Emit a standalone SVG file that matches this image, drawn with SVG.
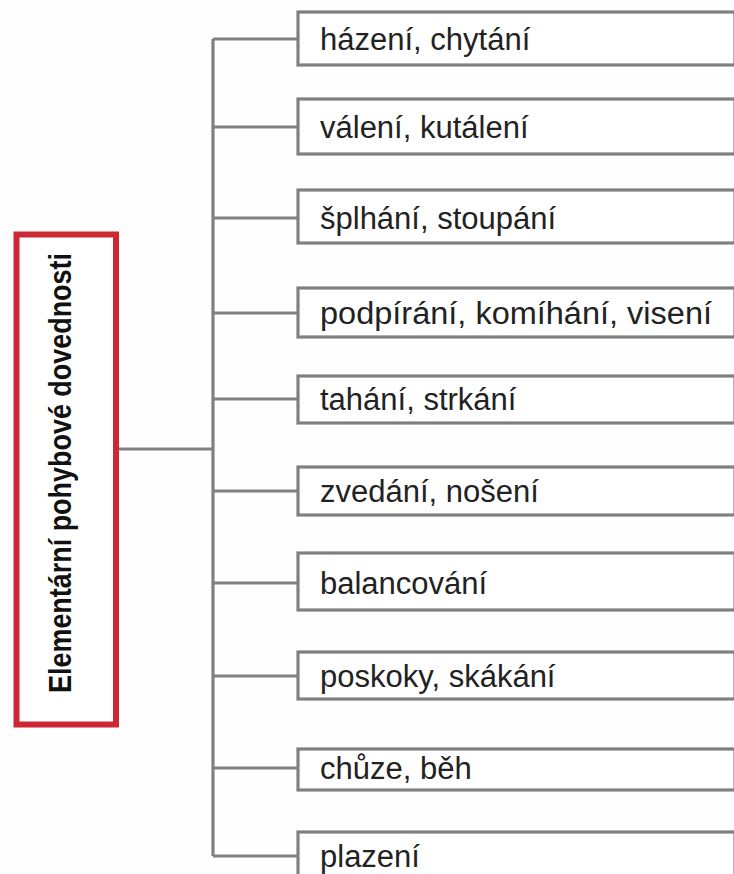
<svg xmlns="http://www.w3.org/2000/svg" width="734" height="874" viewBox="0 0 734 874">
<style>
.box{fill:#fff;stroke:#808080;stroke-width:3.2}
.lbl{font-family:"Liberation Sans",Arial,sans-serif;font-size:31px;fill:#222}
.conn{fill:none;stroke:#808080;stroke-width:3.2}
.root{fill:#fff;stroke:#cc2733;stroke-width:6}
.rlbl{font-family:"Liberation Sans",Arial,sans-serif;font-size:32px;font-weight:bold;fill:#111}
</style>
<rect width="734" height="874" fill="#fefefe"/>
<g id="connectors">
<path class="conn" d="M119,449 H213 M213,39 V856"/>
<path class="conn" d="M213,39 H298 M213,127 H298 M213,218 H298 M213,313 H298 M213,399 H298 M213,491 H298 M213,583 H298 M213,676 H298 M213,768 H298 M213,856 H298"/>
</g>
<g id="root">
<rect class="root" x="16.5" y="234.5" width="99.5" height="490"/>
<text class="rlbl" transform="translate(71,473) rotate(-90)" text-anchor="middle" textLength="440" lengthAdjust="spacingAndGlyphs">Elementární pohybové dovednosti</text>
</g>
<g id="n1"><rect class="box" x="298" y="12" width="437" height="53"/><text class="lbl" x="320" y="50">házení, chytání</text></g>
<g id="n2"><rect class="box" x="298" y="99" width="437" height="55"/><text class="lbl" x="320" y="138">válení, kutálení</text></g>
<g id="n3"><rect class="box" x="298" y="190" width="437" height="53"/><text class="lbl" x="320" y="229">šplhání, stoupání</text></g>
<g id="n4"><rect class="box" x="298" y="288" width="437" height="49"/><text class="lbl" x="320" y="324" textLength="392" lengthAdjust="spacingAndGlyphs">podpírání, komíhání, visení</text></g>
<g id="n5"><rect class="box" x="298" y="376" width="437" height="47"/><text class="lbl" x="320" y="410">tahání, strkání</text></g>
<g id="n6"><rect class="box" x="298" y="467" width="437" height="48"/><text class="lbl" x="320" y="502">zvedání, nošení</text></g>
<g id="n7"><rect class="box" x="298" y="553" width="437" height="57"/><text class="lbl" x="320" y="594">balancování</text></g>
<g id="n8"><rect class="box" x="298" y="652" width="437" height="47"/><text class="lbl" x="320" y="687">poskoky, skákání</text></g>
<g id="n9"><rect class="box" x="298" y="749" width="437" height="41"/><text class="lbl" x="320" y="779">chůze, běh</text></g>
<g id="n10"><rect class="box" x="298" y="832" width="437" height="60"/><text class="lbl" x="320" y="867">plazení</text></g>
</svg>
